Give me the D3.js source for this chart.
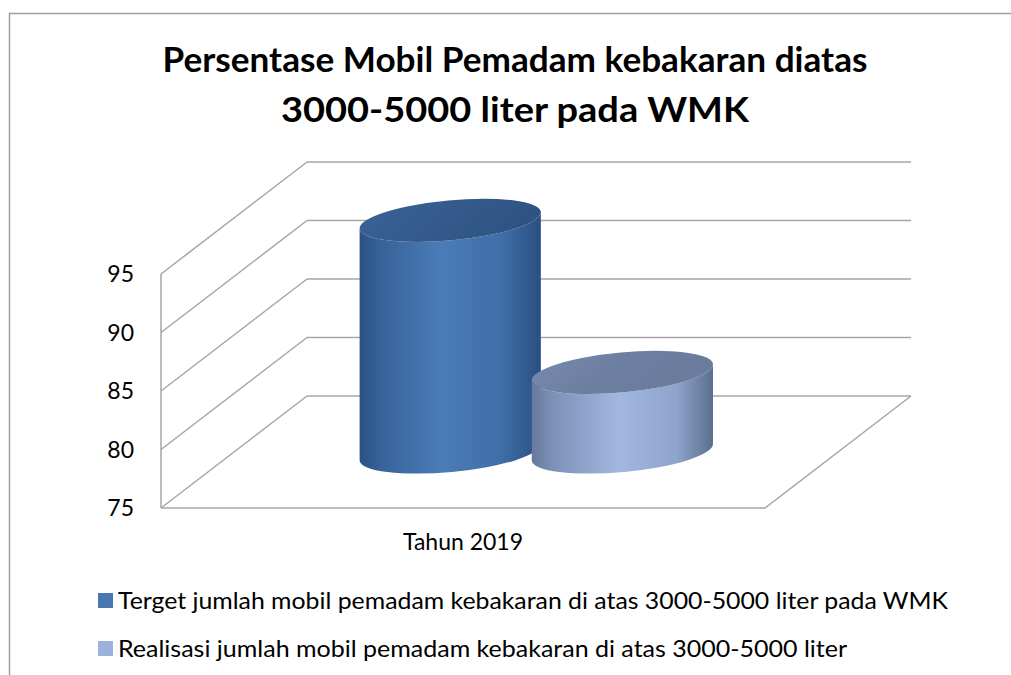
<!DOCTYPE html>
<html>
<head>
<meta charset="utf-8">
<script src="https://cdn.jsdelivr.net/npm/d3@7"></script>
<style>
  html, body { margin: 0; padding: 0; background: #fff; }
  svg { display: block; }
</style>
</head>
<body>
<div id="chart"></div>
<script>
const titleLines = ["Persentase Mobil Pemadam kebakaran diatas", "3000-5000 liter pada WMK"];
const categories = ["Tahun 2019"];
const seriesNames = [
  "Terget jumlah mobil pemadam kebakaran di atas 3000-5000 liter pada WMK",
  "Realisasi jumlah mobil pemadam kebakaran di atas 3000-5000 liter"
];
const seriesValues = [94.8, 81.8];
const yTicks = [75, 80, 85, 90, 95];

const W = 1011, H = 675;
const FONT = "Lato, 'Open Sans', sans-serif";
const GRID = "#a6a6a6";

// front plane of the 3d box and its depth offset
const front = { left: 161, right: 765, top: 274, bottom: 508 };
const depth = { dx: 146, dy: -112 };
const mid = { dx: depth.dx / 2, dy: depth.dy / 2 };

const svg = d3.select("#chart").append("svg")
  .attr("width", W).attr("height", H);

// outer frame (runs off the right and bottom of the picture)
svg.append("rect")
  .attr("x", 9.5).attr("y", 13.5).attr("width", 1100).attr("height", 800)
  .attr("fill", "none").attr("stroke", "#a0a0a0").attr("stroke-width", 1.5);

svg.append("g").selectAll("text").data(titleLines).join("text")
  .attr("x", 515).attr("y", (d, i) => 72 + i * 50)
  .attr("text-anchor", "middle")
  .attr("font-family", FONT).attr("font-weight", 700).attr("font-size", 35)
  .attr("fill", "#000")
  .attr("textLength", (d, i) => [705, 468][i]).attr("lengthAdjust", "spacingAndGlyphs")
  .text(d => d);

const y = d3.scaleLinear().domain([75, 95]).range([front.bottom, front.top]);
const x = d3.scaleBand().domain(categories).range([front.left, front.right]);
const s = d3.scalePoint().domain(d3.range(seriesValues.length))
  .range([0.358 * x.bandwidth(), 0.643 * x.bandwidth()]);

const grid = svg.append("g").attr("fill", "none").attr("stroke", GRID).attr("stroke-width", 1.5);

// back wall lines
grid.selectAll(".back").data(yTicks).join("line")
  .attr("x1", front.left + depth.dx).attr("x2", front.right + depth.dx)
  .attr("y1", d => y(d) + depth.dy).attr("y2", d => y(d) + depth.dy);
// side wall lines
grid.selectAll(".side").data(yTicks).join("line")
  .attr("x1", front.left).attr("x2", front.left + depth.dx)
  .attr("y1", d => y(d)).attr("y2", d => y(d) + depth.dy);
// front left edge
grid.append("line")
  .attr("x1", front.left).attr("x2", front.left)
  .attr("y1", y(95)).attr("y2", y(75));
// floor front edge and right edge
grid.append("path")
  .attr("d", `M${front.left},${y(75)} L${front.right},${y(75)} L${front.right + depth.dx},${y(75) + depth.dy}`);

// y tick labels
svg.append("g").selectAll("text").data(yTicks).join("text")
  .attr("x", 134).attr("y", d => y(d)).attr("dy", "0.36em")
  .attr("text-anchor", "end")
  .attr("font-family", FONT).attr("font-size", 23).attr("fill", "#000")
  .text(d => d);

// category label
svg.append("g").selectAll("text").data(categories).join("text")
  .attr("x", d => x(d) + x.bandwidth() / 2).attr("y", 550)
  .attr("text-anchor", "middle")
  .attr("font-family", FONT).attr("font-size", 23).attr("fill", "#000")
  .text(d => d);

// gradients
const defs = svg.append("defs");
const bodyStops = [
  [["0%", "#2b5183"], ["12%", "#376398"], ["45%", "#4a7cb7"], ["78%", "#3f6ea8"], ["100%", "#2a4f80"]],
  [["0%", "#66799b"], ["12%", "#7d92b9"], ["48%", "#a2b7df"], ["80%", "#8ea4cc"], ["100%", "#5c6e8f"]]
];
const topStops = [
  [["0%", "#3a6296"], ["50%", "#345b8c"], ["100%", "#2f5484"]],
  [["0%", "#7689ac"], ["50%", "#6d7fa1"], ["100%", "#6a7b9c"]]
];
const legendColors = ["#4a77b1", "#9db2da"];

bodyStops.forEach((stops, i) => {
  const g = defs.append("linearGradient").attr("id", `body${i}`)
    .attr("x1", 0).attr("x2", 1).attr("y1", 0).attr("y2", 0);
  g.selectAll("stop").data(stops).join("stop")
    .attr("offset", d => d[0]).attr("stop-color", d => d[1]);
});
topStops.forEach((stops, i) => {
  const g = defs.append("linearGradient").attr("id", `top${i}`)
    .attr("x1", 0).attr("x2", 1).attr("y1", 0).attr("y2", 0.3);
  g.selectAll("stop").data(stops).join("stop")
    .attr("offset", d => d[0]).attr("stop-color", d => d[1]);
});

// cylinders
const rx = 91, ry = 20, tilt = -5.3;
const rad = tilt * Math.PI / 180;
const ex = rx * Math.cos(rad), ey = rx * Math.sin(rad);

const cyl = svg.append("g").selectAll("g").data(seriesValues).join("g");

cyl.append("path")
  .attr("fill", (d, i) => `url(#body${i})`)
  .attr("d", (d, i) => {
    const cx = x(categories[0]) + s(i) + mid.dx;
    const yb = y(75) + mid.dy;
    const yt = y(d) + mid.dy;
    return `M${cx - ex},${yt - ey} L${cx - ex},${yb - ey}` +
      ` A${rx},${ry} ${tilt} 0 0 ${cx + ex},${yb + ey}` +
      ` L${cx + ex},${yt + ey}` +
      ` A${rx},${ry} ${tilt} 0 1 ${cx - ex},${yt - ey} Z`;
  });

cyl.append("ellipse")
  .attr("cx", (d, i) => x(categories[0]) + s(i) + mid.dx)
  .attr("cy", d => y(d) + mid.dy)
  .attr("rx", rx).attr("ry", ry)
  .attr("transform", (d, i) => `rotate(${tilt},${x(categories[0]) + s(i) + mid.dx},${y(d) + mid.dy})`)
  .attr("fill", (d, i) => `url(#top${i})`);

// legend
const legend = svg.append("g").selectAll("g").data(seriesNames).join("g")
  .attr("transform", (d, i) => `translate(98,${601 + i * 48})`);
legend.append("rect")
  .attr("x", 0).attr("y", -8).attr("width", 15).attr("height", 15)
  .attr("fill", (d, i) => legendColors[i]);
legend.append("text")
  .attr("x", 20).attr("y", 0).attr("dy", "0.36em")
  .attr("font-family", FONT).attr("font-size", 23).attr("fill", "#000")
  .attr("textLength", (d, i) => [830, 729][i]).attr("lengthAdjust", "spacingAndGlyphs")
  .text(d => d);
</script>
</body>
</html>
